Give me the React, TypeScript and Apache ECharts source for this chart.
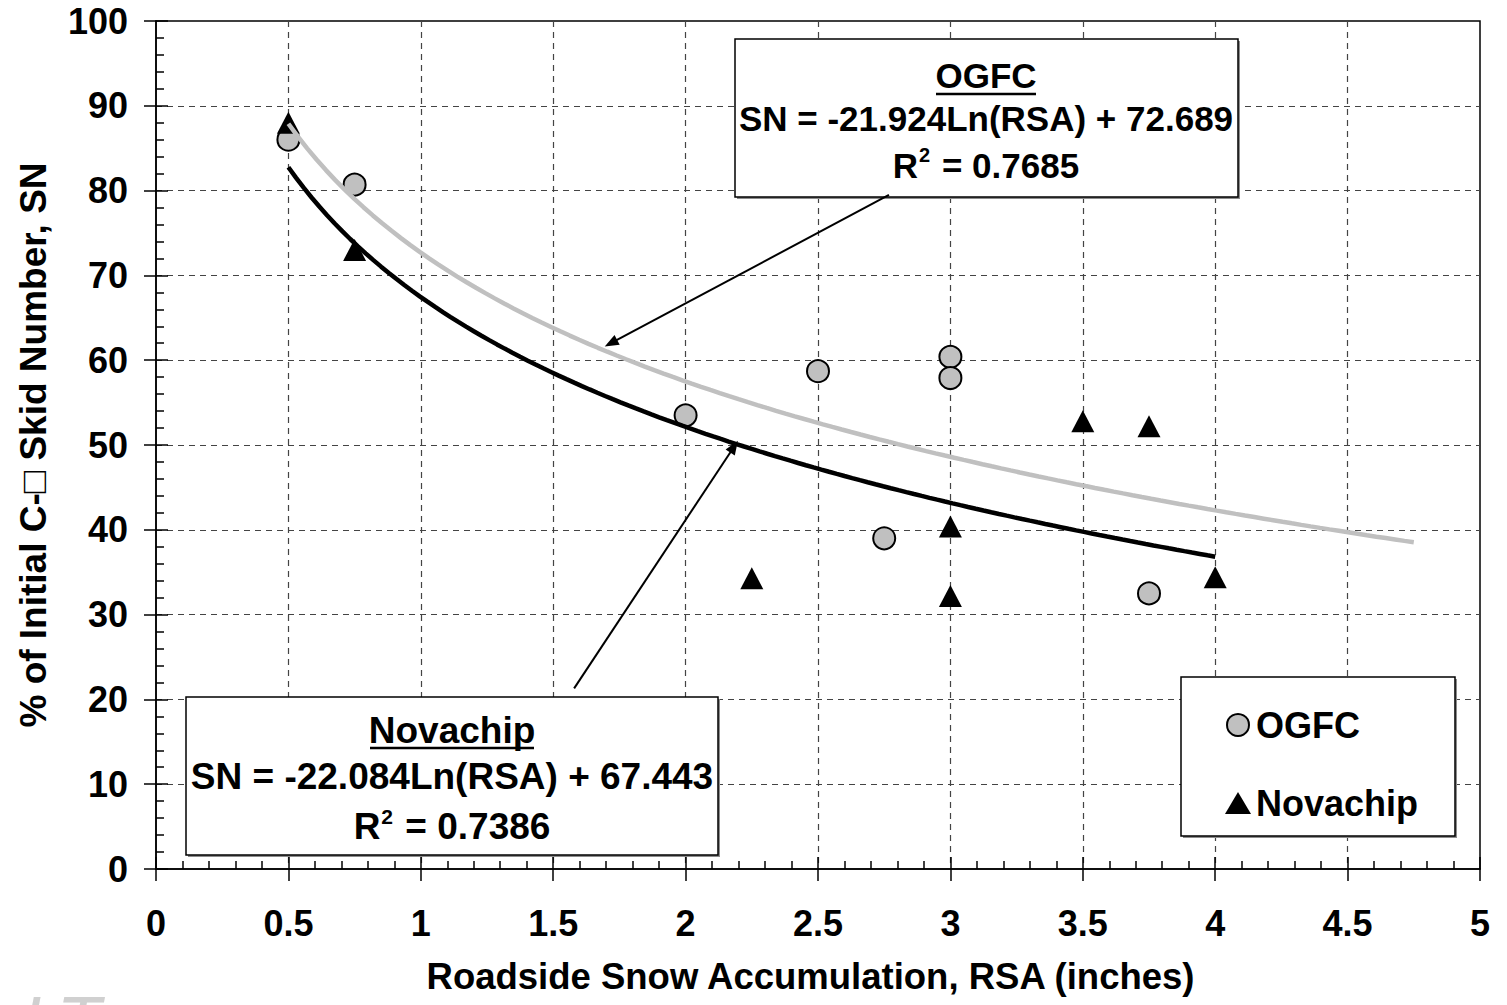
import React, { useEffect, useRef } from "react";
import * as echarts from "echarts";

const FONT = 'Arial, "Liberation Sans", Helvetica, sans-serif';

const ogfcRSA = [0.5, 0.75, 2.0, 2.5, 2.75, 3.0, 3.0, 3.75];
const ogfcSN = [86.0, 80.7, 53.5, 58.7, 39.0, 60.4, 57.9, 32.5];
const novaRSA = [0.5, 0.75, 2.25, 3.0, 3.0, 3.5, 3.75, 4.0];
const novaSN = [88.0, 73.0, 34.3, 40.4, 32.2, 52.8, 52.2, 34.4];

// Logarithmic trend lines printed on the chart: SN = a*Ln(RSA) + b
const ogfcFit = { a: -21.924, b: 72.689, from: 0.5, to: 4.75 };
const novaFit = { a: -22.084, b: 67.443, from: 0.5, to: 4.0 };

const ogfcEquation = "SN = -21.924Ln(RSA) + 72.689";
const ogfcR2 = "0.7685";
const novaEquation = "SN = -22.084Ln(RSA) + 67.443";
const novaR2 = "0.7386";

// Arrow annotations in data coordinates: [from, to]
const ogfcArrow = [[2.768, 79.5], [1.718, 62.0]];
const novaArrow = [[1.579, 21.3], [2.183, 49.8]];

const xAxisName = "Roadside Snow Accumulation, RSA (inches)";
const yAxisName = "% of Initial C-\u25A1 Skid Number, SN";

function fitCurve(f: { a: number; b: number; from: number; to: number }) {
  const pts: number[][] = [];
  const n = 120;
  for (let i = 0; i <= n; i++) {
    const x = f.from + ((f.to - f.from) * i) / n;
    pts.push([x, f.a * Math.log(x) + f.b]);
  }
  return pts;
}

function boxEls(x: number, y: number, w: number, h: number) {
  return [
    { type: "rect", z: 5, shape: { x: x + 2, y: y + 2, width: w, height: h }, style: { fill: "#8c8c8c" } },
    { type: "rect", z: 5, shape: { x, y, width: w, height: h }, style: { fill: "#fff", stroke: "#000", lineWidth: 1.5 } },
  ];
}

function textEl(text: string, x: number, y: number, size: number, rich?: any) {
  return {
    type: "text",
    z: 6,
    x,
    y,
    style: {
      text,
      fill: "#000",
      fontSize: size,
      fontWeight: "bold",
      fontFamily: FONT,
      align: "center",
      verticalAlign: "middle",
      rich,
    },
  };
}

function r2Rich(size: number) {
  return {
    r: { fontSize: size, fontWeight: "bold", fontFamily: FONT, lineHeight: 40, verticalAlign: "middle" },
    s: { fontSize: Math.round(size * 0.58), fontWeight: "bold", fontFamily: FONT, lineHeight: 22, verticalAlign: "top", padding: [0, 2, 0, 1] },
  };
}

function underline(cx: number, y: number, half: number) {
  return { type: "line", z: 6, shape: { x1: cx - half, y1: y, x2: cx + half, y2: y }, style: { stroke: "#000", lineWidth: 2.5 } };
}

export default function App() {
  const ref = useRef<HTMLDivElement>(null);
  useEffect(() => {
    if (!ref.current) return;
    const chart = echarts.init(ref.current, null, { renderer: "svg" });
    const axisCommon = {
      type: "value",
      min: 0,
      axisLine: { show: true, onZero: false, lineStyle: { color: "#000", width: 1.5 } },
    };
    const labelFont = { fontSize: 36, fontWeight: "bold", fontFamily: FONT, color: "#000" };
    const option: any = {
      animation: false,
      backgroundColor: "#fff",
      grid: { left: 156, top: 21, right: 27, bottom: 136, show: true, borderColor: "#000", borderWidth: 1.5, backgroundColor: "#fff" },
      xAxis: [
        {
          ...axisCommon,
          max: 5,
          interval: 0.5,
          position: "bottom",
          name: xAxisName,
          nameLocation: "middle",
          nameGap: 89,
          nameTextStyle: { fontSize: 36.5, fontWeight: "bold", fontFamily: FONT, color: "#000", padding: [0, 15, 0, 0] },
          axisTick: { show: true, inside: false, length: 12, lineStyle: { color: "#000", width: 1.5 } },
          axisLabel: { margin: 36, ...labelFont },
          splitLine: { show: true, showMinLine: false, showMaxLine: false, lineStyle: { color: "#444", width: 1.2, type: [6, 5] } },
        },
        {
          ...axisCommon,
          max: 5,
          interval: 0.5,
          position: "bottom",
          axisLine: { show: false, onZero: false },
          axisTick: { show: true, inside: true, length: 12, lineStyle: { color: "#000", width: 1.5 } },
          minorTick: { show: true, splitNumber: 5, length: 8, lineStyle: { color: "#000", width: 1.5 } },
          axisLabel: { show: false },
          splitLine: { show: false },
        },
      ],
      yAxis: [
        {
          ...axisCommon,
          max: 100,
          interval: 10,
          position: "left",
          name: yAxisName,
          nameLocation: "middle",
          nameGap: 104,
          nameTextStyle: { fontSize: 37, fontWeight: "bold", fontFamily: FONT, color: "#000" },
          axisTick: { show: true, inside: false, length: 12, lineStyle: { color: "#000", width: 1.5 } },
          axisLabel: { margin: 28, ...labelFont },
          splitLine: { show: true, showMinLine: false, showMaxLine: false, lineStyle: { color: "#444", width: 1.2, type: [6, 5] } },
        },
        {
          ...axisCommon,
          max: 100,
          interval: 10,
          position: "left",
          axisLine: { show: false, onZero: false },
          axisTick: { show: true, inside: true, length: 12, lineStyle: { color: "#000", width: 1.5 } },
          minorTick: { show: true, splitNumber: 5, length: 8, lineStyle: { color: "#000", width: 1.5 } },
          axisLabel: { show: false },
          splitLine: { show: false },
        },
      ],
      legend: {
        left: 1220,
        top: 702,
        orient: "vertical",
        itemWidth: 26,
        itemHeight: 22,
        itemGap: 42,
        z: 10,
        data: ["OGFC", "Novachip"],
        textStyle: { fontSize: 36, fontWeight: "bold", fontFamily: FONT, color: "#000", lineHeight: 36 },
      },
      series: [
        {
          name: "OGFC",
          type: "scatter",
          xAxisIndex: 0,
          yAxisIndex: 0,
          symbol: "circle",
          symbolSize: 22,
          itemStyle: { color: "#c0c0c0", borderColor: "#000", borderWidth: 2, opacity: 1 },
          data: ogfcRSA.map((x, i) => [x, ogfcSN[i]]),
          z: 3,
        },
        {
          name: "Novachip",
          type: "scatter",
          xAxisIndex: 0,
          yAxisIndex: 0,
          symbol: "triangle",
          symbolSize: [23, 22],
          itemStyle: { color: "#000", opacity: 1 },
          data: novaRSA.map((x, i) => [x, novaSN[i]]),
          z: 4,
        },
        {
          name: "OGFC trend",
          type: "line",
          xAxisIndex: 0,
          yAxisIndex: 0,
          showSymbol: false,
          symbol: "none",
          lineStyle: { color: "#c0c0c0", width: 4.5 },
          data: fitCurve(ogfcFit),
          z: 5,
          markLine: {
            silent: true,
            symbol: ["none", "triangle"],
            symbolSize: [11, 14],
            label: { show: false },
            lineStyle: { color: "#000", width: 2, type: "solid" },
            data: [
              [
                { coord: ogfcArrow[0], symbol: "none" },
                { coord: ogfcArrow[1], symbol: "triangle" },
              ],
              [
                { coord: novaArrow[0], symbol: "none" },
                { coord: novaArrow[1], symbol: "triangle" },
              ],
            ],
          },
        },
        {
          name: "Novachip trend",
          type: "line",
          xAxisIndex: 0,
          yAxisIndex: 0,
          showSymbol: false,
          symbol: "none",
          lineStyle: { color: "#000", width: 4.5 },
          data: fitCurve(novaFit),
          z: 5,
        },
      ],
      graphic: [
        ...boxEls(735, 39, 503, 158),
        textEl("OGFC", 986, 75, 35),
        underline(986, 94, 50),
        textEl(ogfcEquation, 986, 118, 35),
        textEl(`{r|R}{s|2}{r| = ${ogfcR2}}`, 986, 165, 35, r2Rich(35)),
        ...boxEls(186, 697, 532, 158),
        textEl("Novachip", 452, 730, 37),
        underline(452, 748, 82),
        textEl(novaEquation, 452, 776, 37),
        textEl(`{r|R}{s|2}{r| = ${novaR2}}`, 452, 826, 37, r2Rich(37)),
        { type: "rect", z: 5, shape: { x: 1183, y: 679, width: 274, height: 159 }, style: { fill: "#8c8c8c" } },
        { type: "rect", z: 5, shape: { x: 1181, y: 677, width: 274, height: 159 }, style: { fill: "#fff", stroke: "#000", lineWidth: 1.5 } },
        {
          type: "text",
          z: 6,
          x: 22,
          y: 986,
          style: { text: "LT", fill: "#d0d0d0", fontSize: 72, fontStyle: "italic", fontWeight: "normal", fontFamily: FONT },
        },
      ],
    };
    chart.setOption(option);
    return () => chart.dispose();
  }, []);
  return (
    <div
      ref={ref}
      style={{ position: "fixed", left: 0, top: 0, width: 1507, height: 1005, background: "#fff" }}
    />
  );
}
